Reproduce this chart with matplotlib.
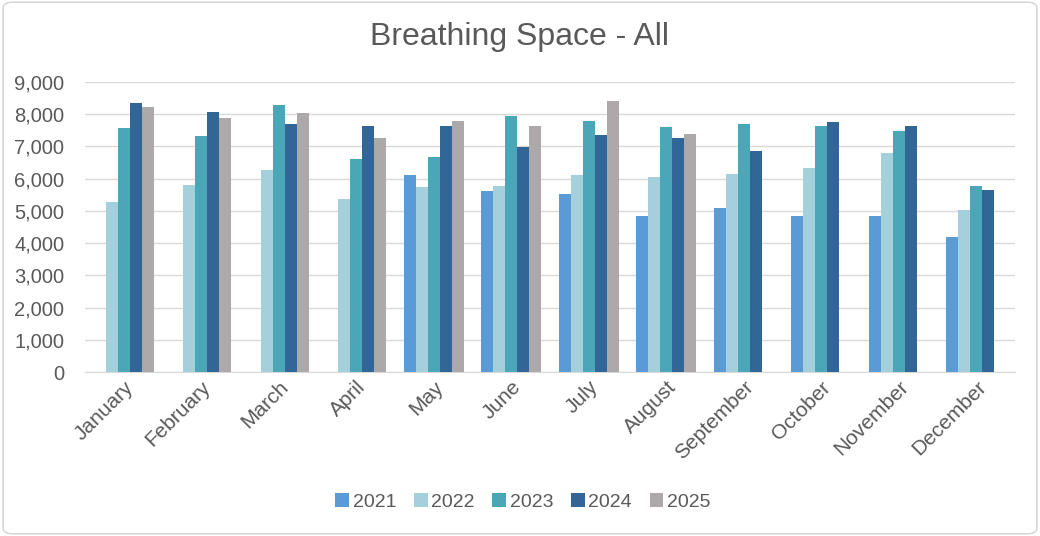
import numpy as np
import matplotlib.pyplot as plt
from matplotlib.patches import FancyBboxPatch

plt.rcParams['font.family'] = ['Liberation Sans', 'DejaVu Sans']

months = ['January', 'February', 'March', 'April', 'May', 'June', 'July',
          'August', 'September', 'October', 'November', 'December']
years = ['2021', '2022', '2023', '2024', '2025']

# NaN = no data for that month
v2021 = [np.nan, np.nan, np.nan, np.nan, 6100, 5630, 5530, 4830, 5080, 4830, 4850, 4190]
v2022 = [5280, 5790, 6270, 5370, 5750, 5770, 6100, 6060, 6160, 6330, 6800, 5020]
v2023 = [7580, 7310, 8280, 6600, 6660, 7940, 7790, 7600, 7700, 7630, 7470, 5770]
v2024 = [8350, 8060, 7710, 7640, 7640, 6980, 7370, 7250, 6850, 7770, 7630, 5640]
v2025 = [8230, 7890, 8040, 7270, 7800, 7630, 8400, 7390, np.nan, np.nan, np.nan, np.nan]

colors = ['#5B9BD5', '#A3D0DA', '#4BA7B8', '#316697', '#ADA9AA']
series = [v2021, v2022, v2023, v2024, v2025]

fig = plt.figure(figsize=(10.4, 5.36), dpi=100)
fig.patches.append(FancyBboxPatch((0.003, 0.004), 0.994, 0.992, boxstyle='round,pad=0,rounding_size=0.01',
                                  transform=fig.transFigure, fill=False, edgecolor='#D9D9D9', lw=1.2))
ax = fig.add_axes([85 / 1040, 1 - 372 / 536, 930 / 1040, 290 / 536])

x = np.arange(len(months))
w = 0.155
for i, (vals, c, yr) in enumerate(zip(series, colors, years)):
    ax.bar(x + (i - 2) * w, vals, width=w, color=c, label=yr, zorder=3)

ax.set_xlim(-0.5, len(months) - 0.5)
ax.set_ylim(0, 9000)
ax.set_yticks(np.arange(0, 9001, 1000))
ax.set_yticklabels([f'{v:,}' for v in range(0, 9001, 1000)])
ax.yaxis.grid(True, color='#D9D9D9', lw=1, zorder=0)
for s in ['top', 'right', 'left']:
    ax.spines[s].set_visible(False)
ax.spines['bottom'].set_color('#D9D9D9')
ax.tick_params(axis='y', length=0, labelsize=14.5, labelcolor='#595959', pad=15)
ax.tick_params(axis='x', length=0, labelsize=15, labelcolor='#595959', pad=4)
ax.set_xticks(x)
ax.set_xticklabels(months, rotation=45, ha='right', rotation_mode='anchor')

fig.text(0.5, 1 - 37 / 536, 'Breathing Space - All', ha='center', va='center',
         fontsize=23, color='#595959')

fig.legend(loc='center', bbox_to_anchor=(523 / 1040, 1 - 502 / 536), ncol=5, frameon=False,
           fontsize=14, labelcolor='#595959', handlelength=0.7, handleheight=0.7,
           handletextpad=0.2, columnspacing=0.9)

fig.savefig('out.png', dpi=100)
